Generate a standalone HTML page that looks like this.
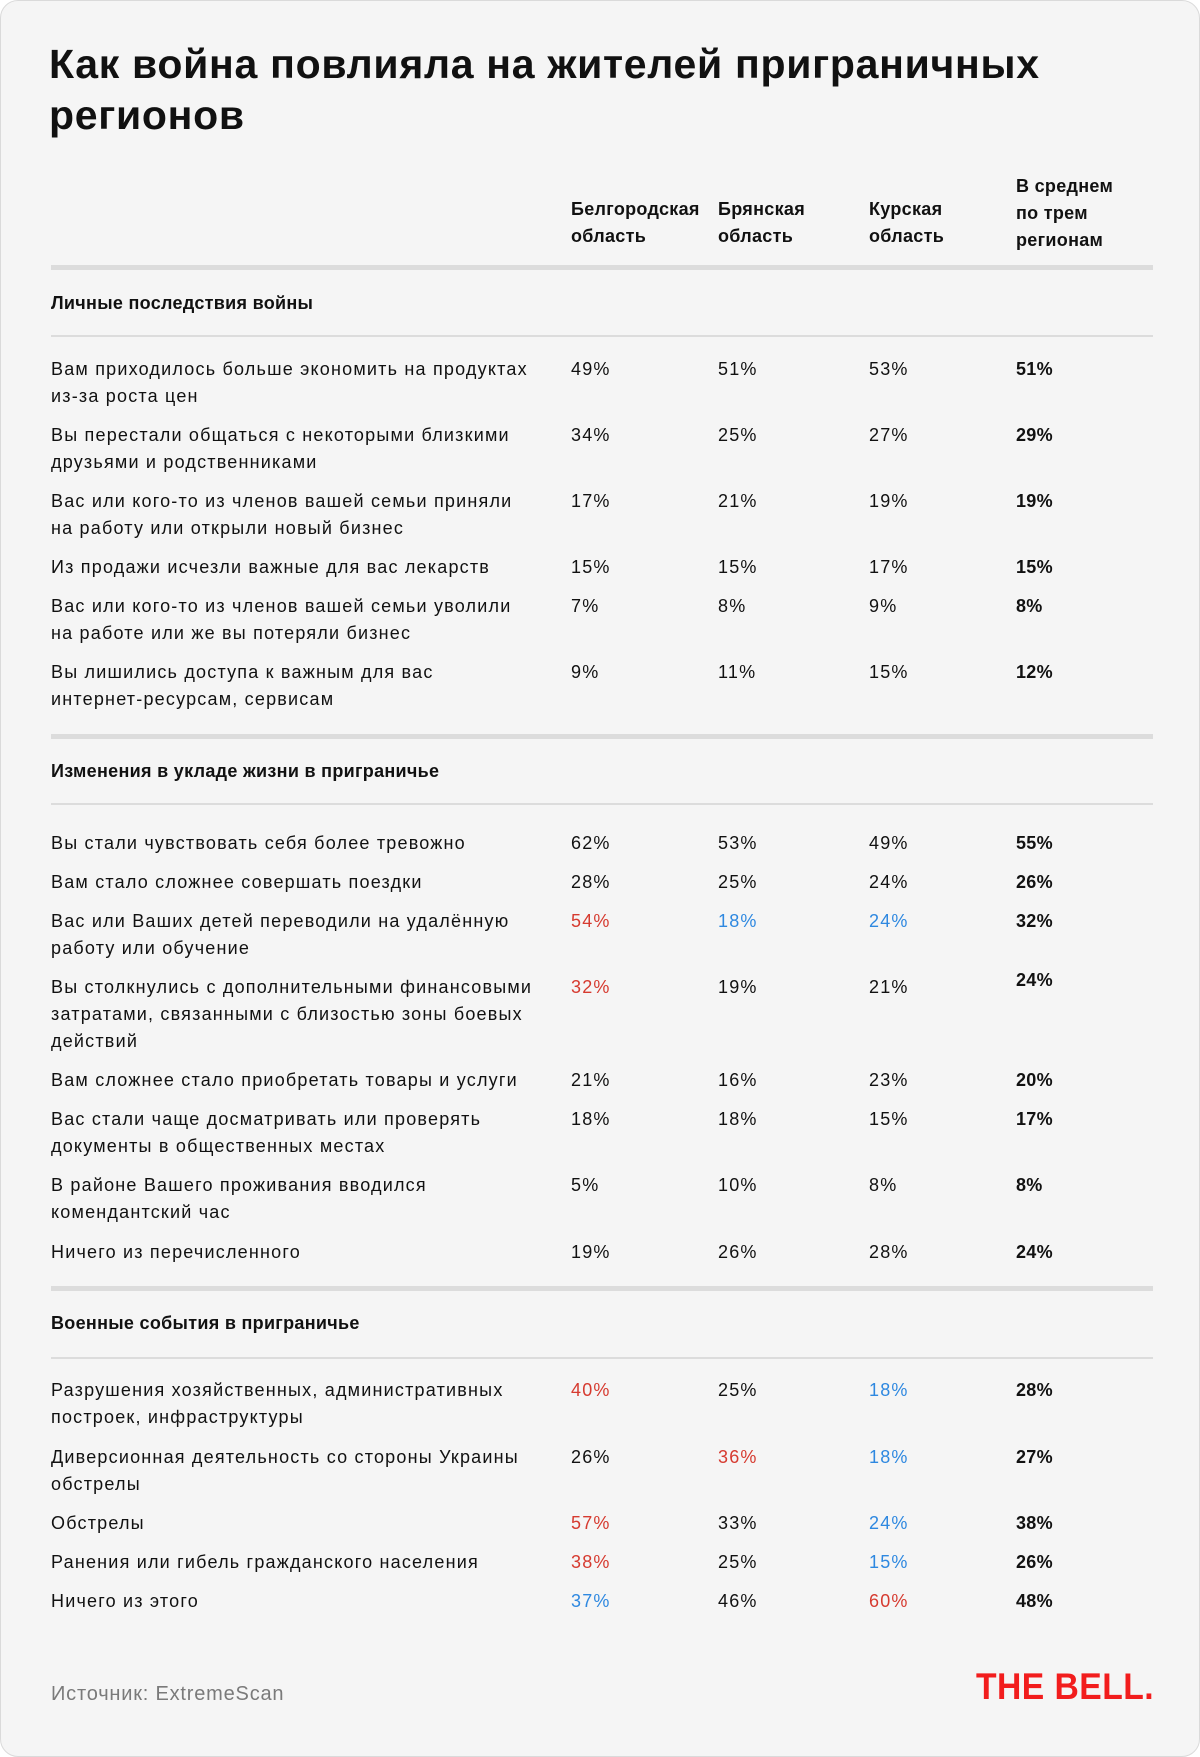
<!DOCTYPE html>
<html><head><meta charset="utf-8"><style>
html,body{margin:0;padding:0;background:#fff;}
#c{position:relative;width:1198px;height:1755px;background:#f5f5f5;border:1px solid #dadada;border-radius:18px;overflow:hidden;font-family:"Liberation Sans","DejaVu Sans",sans-serif;color:#111;}
.t{position:absolute;font-size:18px;line-height:27px;white-space:nowrap;letter-spacing:1.2px;}
.b{font-weight:bold;letter-spacing:0.3px;}
.r{color:#d63a2f;}
.u{color:#2e88e0;}
.h{position:absolute;left:50px;width:1102px;background:#dcdcdc;}
.thick{height:5px;}
.thin{height:2px;}
h1{position:absolute;left:48px;top:38px;margin:0;font-size:41px;line-height:51px;font-weight:bold;letter-spacing:0.7px;color:#111;}
</style></head><body><div id="c">
<h1>Как война повлияла на жителей приграничных<br>регионов</h1>

<div class="t b" style="left:570px;top:195px">Белгородская<br>область</div>
<div class="t b" style="left:717px;top:195px">Брянская<br>область</div>
<div class="t b" style="left:868px;top:195px">Курская<br>область</div>
<div class="t b" style="left:1015px;top:172px">В среднем<br>по трем<br>регионам</div>

<div class="h thick" style="top:264px"></div>
<div class="t b" style="left:50px;top:289px">Личные последствия войны</div>
<div class="h thin" style="top:334px"></div>

<div class="t" style="left:50px;top:355px">Вам приходилось больше экономить на продуктах<br>из-за роста цен</div>
<div class="t" style="left:570px;top:355px">49%</div><div class="t" style="left:717px;top:355px">51%</div><div class="t" style="left:868px;top:355px">53%</div><div class="t b" style="left:1015px;top:355px">51%</div>

<div class="t" style="left:50px;top:421px">Вы перестали общаться с некоторыми близкими<br>друзьями и родственниками</div>
<div class="t" style="left:570px;top:421px">34%</div><div class="t" style="left:717px;top:421px">25%</div><div class="t" style="left:868px;top:421px">27%</div><div class="t b" style="left:1015px;top:421px">29%</div>

<div class="t" style="left:50px;top:487px">Вас или кого-то из членов вашей семьи приняли<br>на работу или открыли новый бизнес</div>
<div class="t" style="left:570px;top:487px">17%</div><div class="t" style="left:717px;top:487px">21%</div><div class="t" style="left:868px;top:487px">19%</div><div class="t b" style="left:1015px;top:487px">19%</div>

<div class="t" style="left:50px;top:553px">Из продажи исчезли важные для вас лекарств</div>
<div class="t" style="left:570px;top:553px">15%</div><div class="t" style="left:717px;top:553px">15%</div><div class="t" style="left:868px;top:553px">17%</div><div class="t b" style="left:1015px;top:553px">15%</div>

<div class="t" style="left:50px;top:592px">Вас или кого-то из членов вашей семьи уволили<br>на работе или же вы потеряли бизнес</div>
<div class="t" style="left:570px;top:592px">7%</div><div class="t" style="left:717px;top:592px">8%</div><div class="t" style="left:868px;top:592px">9%</div><div class="t b" style="left:1015px;top:592px">8%</div>

<div class="t" style="left:50px;top:658px">Вы лишились доступа к важным для вас<br>интернет-ресурсам, сервисам</div>
<div class="t" style="left:570px;top:658px">9%</div><div class="t" style="left:717px;top:658px">11%</div><div class="t" style="left:868px;top:658px">15%</div><div class="t b" style="left:1015px;top:658px">12%</div>

<div class="h thick" style="top:733px"></div>
<div class="t b" style="left:50px;top:757px">Изменения в укладе жизни в приграничье</div>
<div class="h thin" style="top:802px"></div>

<div class="t" style="left:50px;top:829px">Вы стали чувствовать себя более тревожно</div>
<div class="t" style="left:570px;top:829px">62%</div><div class="t" style="left:717px;top:829px">53%</div><div class="t" style="left:868px;top:829px">49%</div><div class="t b" style="left:1015px;top:829px">55%</div>

<div class="t" style="left:50px;top:868px">Вам стало сложнее совершать поездки</div>
<div class="t" style="left:570px;top:868px">28%</div><div class="t" style="left:717px;top:868px">25%</div><div class="t" style="left:868px;top:868px">24%</div><div class="t b" style="left:1015px;top:868px">26%</div>

<div class="t" style="left:50px;top:907px">Вас или Ваших детей переводили на удалённую<br>работу или обучение</div>
<div class="t r" style="left:570px;top:907px">54%</div><div class="t u" style="left:717px;top:907px">18%</div><div class="t u" style="left:868px;top:907px">24%</div><div class="t b" style="left:1015px;top:907px">32%</div>

<div class="t" style="left:50px;top:973px">Вы столкнулись с дополнительными финансовыми<br>затратами, связанными с близостью зоны боевых<br>действий</div>
<div class="t r" style="left:570px;top:973px">32%</div><div class="t" style="left:717px;top:973px">19%</div><div class="t" style="left:868px;top:973px">21%</div><div class="t b" style="left:1015px;top:966px">24%</div>

<div class="t" style="left:50px;top:1066px">Вам сложнее стало приобретать товары и услуги</div>
<div class="t" style="left:570px;top:1066px">21%</div><div class="t" style="left:717px;top:1066px">16%</div><div class="t" style="left:868px;top:1066px">23%</div><div class="t b" style="left:1015px;top:1066px">20%</div>

<div class="t" style="left:50px;top:1105px">Вас стали чаще досматривать или проверять<br>документы в общественных местах</div>
<div class="t" style="left:570px;top:1105px">18%</div><div class="t" style="left:717px;top:1105px">18%</div><div class="t" style="left:868px;top:1105px">15%</div><div class="t b" style="left:1015px;top:1105px">17%</div>

<div class="t" style="left:50px;top:1171px">В районе Вашего проживания вводился<br>комендантский час</div>
<div class="t" style="left:570px;top:1171px">5%</div><div class="t" style="left:717px;top:1171px">10%</div><div class="t" style="left:868px;top:1171px">8%</div><div class="t b" style="left:1015px;top:1171px">8%</div>

<div class="t" style="left:50px;top:1238px">Ничего из перечисленного</div>
<div class="t" style="left:570px;top:1238px">19%</div><div class="t" style="left:717px;top:1238px">26%</div><div class="t" style="left:868px;top:1238px">28%</div><div class="t b" style="left:1015px;top:1238px">24%</div>

<div class="h thick" style="top:1285px"></div>
<div class="t b" style="left:50px;top:1309px">Военные события в приграничье</div>
<div class="h thin" style="top:1356px"></div>

<div class="t" style="left:50px;top:1376px">Разрушения хозяйственных, административных<br>построек, инфраструктуры</div>
<div class="t r" style="left:570px;top:1376px">40%</div><div class="t" style="left:717px;top:1376px">25%</div><div class="t u" style="left:868px;top:1376px">18%</div><div class="t b" style="left:1015px;top:1376px">28%</div>

<div class="t" style="left:50px;top:1443px">Диверсионная деятельность со стороны Украины<br>обстрелы</div>
<div class="t" style="left:570px;top:1443px">26%</div><div class="t r" style="left:717px;top:1443px">36%</div><div class="t u" style="left:868px;top:1443px">18%</div><div class="t b" style="left:1015px;top:1443px">27%</div>

<div class="t" style="left:50px;top:1509px">Обстрелы</div>
<div class="t r" style="left:570px;top:1509px">57%</div><div class="t" style="left:717px;top:1509px">33%</div><div class="t u" style="left:868px;top:1509px">24%</div><div class="t b" style="left:1015px;top:1509px">38%</div>

<div class="t" style="left:50px;top:1548px">Ранения или гибель гражданского населения</div>
<div class="t r" style="left:570px;top:1548px">38%</div><div class="t" style="left:717px;top:1548px">25%</div><div class="t u" style="left:868px;top:1548px">15%</div><div class="t b" style="left:1015px;top:1548px">26%</div>

<div class="t" style="left:50px;top:1587px">Ничего из этого</div>
<div class="t u" style="left:570px;top:1587px">37%</div><div class="t" style="left:717px;top:1587px">46%</div><div class="t r" style="left:868px;top:1587px">60%</div><div class="t b" style="left:1015px;top:1587px">48%</div>

<div class="t" style="left:50px;top:1680px;font-size:20px;color:#7a7a7a;letter-spacing:0.8px">Источник: ExtremeScan</div>
<div style="position:absolute;left:975px;top:1664px;font-size:37px;line-height:44px;font-weight:900;color:#f21d1d;letter-spacing:0.5px;transform:scaleX(0.91);transform-origin:left;font-family:'Liberation Sans',sans-serif;white-space:nowrap">THE BELL.</div>
</div></body></html>
